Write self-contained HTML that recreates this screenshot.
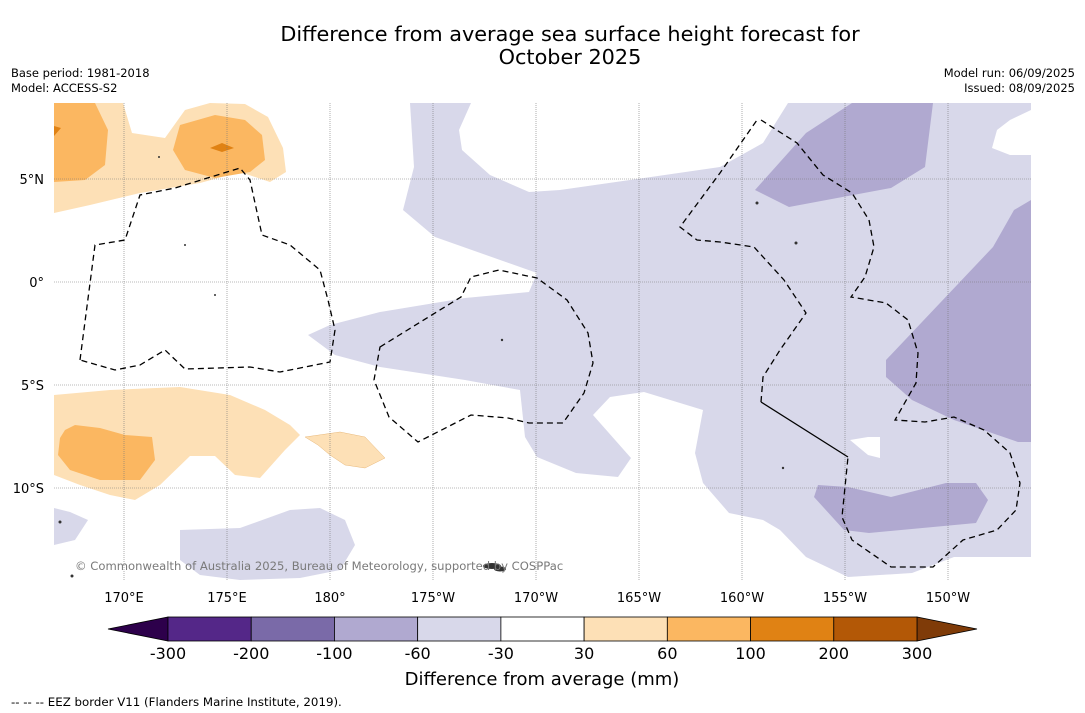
<!DOCTYPE html>
<html><head><meta charset="utf-8">
<style>
body{margin:0;background:#fff;font-family:"DejaVu Sans","Liberation Sans",sans-serif;}
#root{position:relative;width:1085px;height:713px;overflow:hidden;background:#fff}
.t{position:absolute;white-space:nowrap;color:#000}
svg text{font-family:"DejaVu Sans","Liberation Sans",sans-serif}
</style></head>
<body>
<div id="root">
<div class="t" style="left:0;width:1140px;text-align:center;top:23px;font-size:20.8px;line-height:23px">Difference from average sea surface height forecast for<br>October 2025</div>
<div class="t" style="left:11px;top:66px;font-size:11.5px;line-height:15px">Base period: 1981-2018<br>Model: ACCESS-S2</div>
<div class="t" style="right:10px;top:66px;font-size:11.5px;line-height:15px;text-align:right">Model run: 06/09/2025<br>Issued: 08/09/2025</div>
<svg id="svg" width="1085" height="713" style="position:absolute;left:0;top:0">
<defs><clipPath id="mc"><rect x="54" y="103" width="977" height="477"/></clipPath></defs>
<g clip-path="url(#mc)">
<g id="fills">
<path fill="#d8d8ea" d="M410,103 L1031,103 L1031,557 L954,557 L912,573 L848,577 L806,557 L780,530 L763,520 L729,513 L703,483 L695,453 L703,410 L644,392 L610,397 L593,415 L631,458 L618,477 L576,473 L537,457 L525,437 L520,390 L465,380 L380,367 L335,355 L308,335 L330,325 L380,312 L465,298 L529,292 L537,273 L435,237 L403,210 L414,167 Z"/>
<path fill="#fff" d="M471,103 L459,130 L462,150 L490,175 L529,192 L560,190 L644,178 L720,167 L763,143 L788,103 Z"/>
<path fill="#fff" d="M1031,110 L1010,120 L997,130 L992,148 L1010,155 L1031,155 Z"/>
<path fill="#fff" d="M850,440 L868,437 L880,437 L880,458 L868,455 Z"/>
<path fill="#b0a9d0" d="M852,103 L933,103 L925,167 L891,188 L789,207 L755,190 L806,133 Z"/>
<path fill="#b0a9d0" d="M1031,200 L1014,210 L993,247 L886,360 L886,377 L912,400 L954,420 L1018,442 L1031,442 Z"/>
<path fill="#b0a9d0" d="M818,485 L814,497 L844,530 L869,533 L976,523 L988,500 L976,483 L946,483 L891,497 L848,487 Z"/>
<path fill="#d8d8ea" d="M180,530 L240,528 L290,510 L320,508 L345,520 L355,545 L340,570 L300,578 L240,580 L200,575 L180,560 Z"/>
<path fill="#d8d8ea" d="M54,508 L70,512 L88,520 L75,540 L54,545 Z"/>
<path fill="#fde0b6" d="M54,103 L123,103 L132,133 L165,138 L185,110 L210,103 L245,104 L268,117 L283,148 L286,172 L270,182 L240,172 L200,183 L140,193 L90,205 L54,213 Z"/>
<path fill="#fbb761" d="M54,103 L95,103 L108,130 L105,165 L85,180 L54,182 Z"/>
<path fill="#fbb761" d="M180,125 L215,115 L245,120 L262,135 L265,160 L250,172 L215,178 L185,170 L173,150 Z"/>
<path fill="#e08214" d="M210,148 L222,143 L234,148 L222,152 Z M54,126 L61,128 L54,136 Z"/>
<path fill="#fde0b6" d="M54,395 L110,390 L180,387 L230,395 L265,410 L290,425 L300,435 L285,450 L260,478 L235,475 L215,456 L190,456 L160,485 L135,500 L110,495 L80,485 L54,475 Z"/>
<path fill="#fbb761" d="M65,430 L75,425 L100,428 L125,435 L152,437 L155,460 L140,480 L100,480 L70,470 L58,455 L60,438 Z"/>
<path fill="#fde0b6" stroke="#e8b87a" stroke-width="0.5" d="M305,437 L340,432 L365,437 L385,458 L365,468 L345,465 L330,455 L318,445 Z"/>
</g>
<g id="grid"></g>
<g fill="none" stroke="#000" stroke-width="1.3" stroke-dasharray="6,4">
<path d="M80,360 L95,245 L125,240 L140,195 L175,188 L240,168 L250,180 L262,235 L290,245 L320,270 L328,300 L335,330 L330,362 L280,372 L250,367 L185,369 L165,350 L140,365 L115,370 Z"/>
<path d="M380,347 L461,297 L471,277 L499,270 L537,278 L567,300 L588,333 L593,363 L584,393 L563,423 L529,423 L508,418 L471,415 L418,442 L389,417 L374,380 Z"/>
<path d="M761,120 L797,143 L823,175 L852,193 L869,220 L874,247 L865,277 L851,297 L886,303 L908,320 L918,353 L916,383 L895,420 L925,422 L954,417 L984,430 L1010,453 L1020,483 L1016,510 L997,530 L963,540 L933,567 L891,567 L852,540 L842,517 L848,457 M761,402 L763,377 L780,350 L806,313 L784,280 L754,247 L720,242 L697,240 L680,227 L720,173 L757,120"/>
<path stroke-dasharray="none" d="M848,457 L761,402"/>
</g>
<g fill="#333">
<ellipse cx="492" cy="566" rx="9" ry="3"/><ellipse cx="500" cy="569" rx="6" ry="2.5"/>
<circle cx="757" cy="203" r="1.5"/><circle cx="796" cy="243" r="1.5"/><circle cx="502" cy="340" r="1.2"/>
<circle cx="60" cy="522" r="1.5"/><circle cx="72" cy="576" r="1.5"/><circle cx="159" cy="157" r="1"/>
<circle cx="185" cy="245" r="1"/><circle cx="215" cy="295" r="1"/><circle cx="783" cy="468" r="1.2"/>
</g>
</g>
<text x="75" y="570" font-size="11.6" fill="#7a7a7a">© Commonwealth of Australia 2025, Bureau of Meteorology, supported by COSPPac</text>
<g id="axes"></g>
<g id="cbar"></g>
<text x="542" y="685" text-anchor="middle" font-size="18">Difference from average (mm)</text>
<text x="11" y="706" font-size="11.8">--  --  -- EEZ border V11 (Flanders Marine Institute, 2019).</text>
</svg>
</div>
<script>
const lonTicks=[170,175,180,185,190,195,200,205,210];
const lonLabels=["170°E","175°E","180°","175°W","170°W","165°W","160°W","155°W","150°W"];
const latTicks=[5,0,-5,-10];
const latLabels=["5°N","0°","5°S","10°S"];
const cbarBounds=["-300","-200","-100","-60","-30","30","60","100","200","300"];
const cbarColors=["#542788","#7a6aa8","#b0a9d0","#d8d8ea","#ffffff","#fde0b6","#fbb761","#e08214","#b35806"];
const cbarExtend=["#2d004b","#7f3b08"];
const NS="http://www.w3.org/2000/svg";
const xLon=l=>124+(l-170)*20.6;
const yLat=l=>282-l*20.6;
function mk(tag,attrs,parent){const e=document.createElementNS(NS,tag);for(const k in attrs)e.setAttribute(k,attrs[k]);parent.appendChild(e);return e;}
const grid=document.getElementById('grid'),axes=document.getElementById('axes');
lonTicks.forEach((l,i)=>{
 const x=xLon(l);
 const ln=mk('line',{x1:x,x2:x,y1:103,y2:580,stroke:'#777','stroke-width':0.6,'stroke-dasharray':'1,1'},grid);
 
 
 const t=mk('text',{x:x,y:602,'text-anchor':'middle','font-size':13},axes);
 t.textContent=lonLabels[i];
 
 
});
latTicks.forEach((l,i)=>{
 const y=yLat(l);
 const ln=mk('line',{x1:54,x2:1031,y1:y,y2:y,stroke:'#777','stroke-width':0.6,'stroke-dasharray':'1,1'},grid);
 
 
 const t=mk('text',{x:44,y:y+5,'text-anchor':'end','font-size':13},axes);
 t.textContent=latLabels[i];
 
 
});
const cb=document.getElementById('cbar');
const cx0=168,cx1=917,cy=617,ch=24,n=cbarColors.length,w=(cx1-cx0)/n;
const lt=mk('polygon',{points:`108,${cy+ch/2} ${cx0},${cy} ${cx0},${cy+ch}`,fill:cbarExtend[0],stroke:'#000','stroke-width':0.8},cb);


const rt=mk('polygon',{points:`977,${cy+ch/2} ${cx1},${cy} ${cx1},${cy+ch}`,fill:cbarExtend[1],stroke:'#000','stroke-width':0.8},cb);


cbarColors.forEach((c,i)=>{
 const r=mk('rect',{x:cx0+i*w,y:cy,width:w,height:ch,fill:c,stroke:'#000','stroke-width':0.8},cb);
 
 
});
cbarBounds.forEach((b,i)=>{
 const t=mk('text',{x:cx0+i*w,y:659,'text-anchor':'middle','font-size':16},cb);
 t.textContent=b;
 
 
});
</script>
</body></html>
